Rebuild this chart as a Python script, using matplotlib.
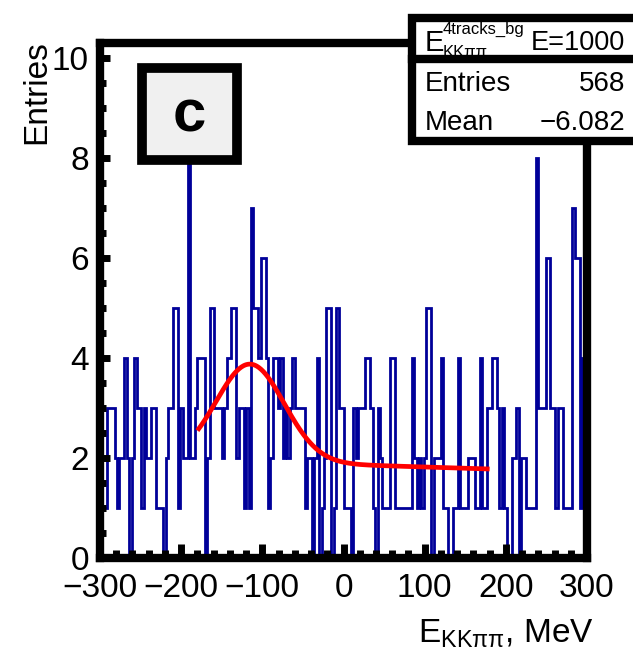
import numpy as np
import matplotlib
matplotlib.use("Agg")
import matplotlib.pyplot as plt
from matplotlib.patches import Rectangle
from matplotlib.lines import Line2D
from matplotlib.ticker import MultipleLocator

plt.rcParams['font.family'] = ['Liberation Sans', 'DejaVu Sans']
plt.rcParams['mathtext.default'] = 'regular'

# ---------------- data ----------------
BIN_LO, BIN_HI, N_BINS = -300.0, 300.0, 200
counts = [
    6, 1, 1, 3, 3, 3, 2, 1, 2, 2,
    4, 2, 0, 2, 4, 3, 3, 1, 3, 2,
    2, 3, 3, 1, 1, 1, 0, 2, 3, 3,
    5, 5, 1, 3, 2, 2, 8, 2, 2, 3,
    4, 4, 4, 0, 2, 5, 5, 3, 3, 3,
    2, 3, 4, 4, 5, 5, 2, 3, 3, 1,
    3, 1, 7, 5, 5, 4, 6, 6, 4, 1,
    2, 4, 4, 3, 4, 2, 3, 2, 3, 4,
    3, 3, 3, 3, 1, 2, 2, 0, 2, 4,
    0, 1, 2, 5, 5, 0, 1, 5, 3, 3,
    1, 1, 1, 0, 3, 2, 3, 3, 3, 4,
    4, 3, 1, 0, 3, 2, 1, 1, 1, 4,
    4, 1, 1, 1, 1, 1, 1, 1, 4, 2,
    1, 2, 1, 2, 5, 5, 0, 2, 2, 2,
    4, 1, 1, 0, 0, 1, 1, 4, 1, 1,
    1, 2, 2, 2, 1, 1, 4, 1, 1, 3,
    3, 4, 4, 3, 1, 3, 1, 0, 0, 2,
    2, 3, 0, 2, 2, 1, 1, 1, 1, 8,
    3, 3, 3, 6, 6, 3, 3, 1, 3, 3,
    1, 1, 1, 1, 7, 6, 6, 1, 4, 6,
]

# fit: gaussian + linear background
FIT_LO, FIT_HI = -180.0, 180.0
fit_amp, fit_mean, fit_sigma = 1.95, -115.0, 42.0
fit_const, fit_slope = 1.87, -0.0005

x_ticks = [-300, -200, -100, 0, 100, 200, 300]
y_ticks = [0, 2, 4, 6, 8, 10]

stat_title = "E=1000"
stat_entries = "568"
stat_mean = "\u22126.082"
panel_label = "c"
x_title = "$E_{KK\u03c0\u03c0}$, MeV"
y_title = "Entries"

# ---------------- layout helpers ----------------
W, H = 633, 658
def fx(x):
    return x / W
def fy(y):
    return 1 - y / H

fig = plt.figure(figsize=(W / 100, H / 100), dpi=100)
ax = fig.add_axes([fx(100), fy(558), (587 - 100) / W, (558 - 42.5) / H])
ax.set_xlim(BIN_LO, BIN_HI)
ax.set_ylim(0, 10.31)

edges = np.linspace(BIN_LO, BIN_HI, N_BINS + 1)
ax.stairs(counts, edges, color='#000099', lw=2.0, baseline=0, zorder=2)

xf = np.linspace(FIT_LO, FIT_HI, 400)
yf = fit_amp * np.exp(-0.5 * ((xf - fit_mean) / fit_sigma) ** 2) + fit_const + fit_slope * xf
ax.plot(xf, yf, color='#ff0000', lw=3.4, solid_capstyle='butt', zorder=3)

for s in ax.spines.values():
    s.set_linewidth(6)
    s.set_color('black')
    s.set_zorder(4)

ax.set_axisbelow(False)
ax.set_xticks(x_ticks)
ax.set_yticks(y_ticks)
ax.xaxis.set_minor_locator(MultipleLocator(20))
ax.yaxis.set_minor_locator(MultipleLocator(0.5))
ax.tick_params(which='both', direction='in', top=False, right=False,
               width=5, color='black', labelsize=24)
ax.tick_params(axis='x', which='major', length=10, pad=11)
ax.tick_params(axis='x', which='minor', length=5.5)
ax.tick_params(axis='y', which='major', length=7.2, pad=8)
ax.tick_params(axis='y', which='minor', length=4)

# axis titles
fig.text(fx(37), fy(40), y_title, rotation=90, ha='center', va='top', fontsize=24)
fig.text(fx(594), fy(643), x_title, ha='right', va='baseline', fontsize=24)

# panel label box
fig.patches.append(Rectangle((fx(142), fy(160)), (237 - 142) / W, (160 - 68.5) / H,
                             transform=fig.transFigure, facecolor='#f0f0f0',
                             edgecolor='black', lw=7, zorder=6))
fig.text(fx(189), fy(132), panel_label, ha='center', va='baseline', fontsize=43,
         fontweight='bold', zorder=7)

# stats box
fig.patches.append(Rectangle((fx(412), fy(141)), (660 - 412) / W, (141 - 17.5) / H,
                             transform=fig.transFigure, facecolor='white',
                             edgecolor='black', lw=6, zorder=6))
fig.text(fx(425), fy(51), 'E', fontsize=21, va='baseline', ha='left', zorder=7)
fig.text(fx(443), fy(34), '4tracks_bg', fontsize=12, va='baseline', ha='left', zorder=7)
fig.text(fx(443), fy(57), 'KK\u03c0\u03c0', fontsize=12, va='baseline', ha='left', zorder=7)
fig.text(fx(625), fy(50), stat_title, fontsize=19.5, va='baseline', ha='right', zorder=7)
fig.lines.append(Line2D([fx(412), fx(660)], [fy(59), fy(59)], transform=fig.transFigure,
                        color='black', lw=6, zorder=8))
fig.text(fx(425), fy(91), 'Entries', fontsize=20, va='baseline', ha='left', zorder=7)
fig.text(fx(625), fy(91), stat_entries, fontsize=20, va='baseline', ha='right', zorder=7)
fig.text(fx(425), fy(130), 'Mean', fontsize=20, va='baseline', ha='left', zorder=7)
fig.text(fx(625), fy(130), stat_mean, fontsize=20, va='baseline', ha='right', zorder=7)

fig.savefig('out.png', dpi=100)
